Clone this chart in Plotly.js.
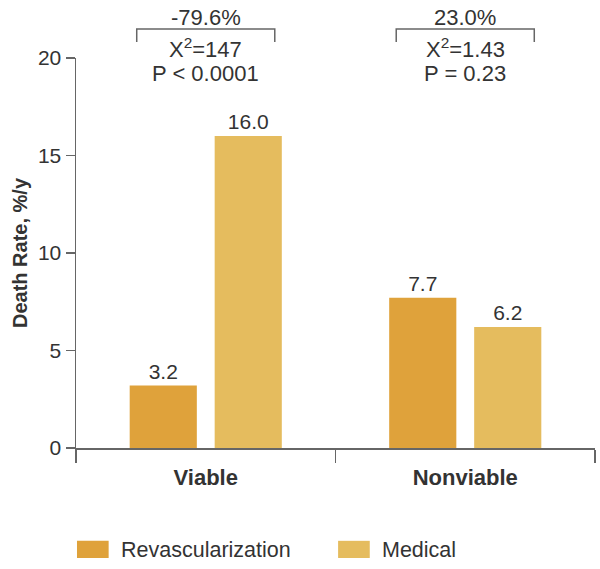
<!DOCTYPE html>
<html>
<head>
<meta charset="utf-8">
<script src="https://cdn.plot.ly/plotly-3.0.1.min.js"></script>
<style>html,body{margin:0;padding:0;background:#fff;}#chart{width:600px;height:569px;}</style>
</head>
<body>
<div id="chart"></div>
<script>
// Data
var categories = ["Viable", "Nonviable"];
var seriesNames = ["Revascularization", "Medical"];
var revascValues = [3.2, 7.7];
var medicalValues = [16.0, 6.2];
var changeLabels = ["-79.6%", "23.0%"];
var chiLabels = ["X<sup>2</sup>=147", "X<sup>2</sup>=1.43"];
var pLabels = ["P < 0.0001", "P = 0.23"];
var yTicks = [0, 5, 10, 15, 20];

var colors = ["#DFA23B", "#E5BC5E"];
var FONT = "Liberation Sans, Arial, Helvetica, sans-serif";
var txt = "#333333";
var FS = 22;

var traces = [revascValues, medicalValues].map(function (vals, i) {
  return {
    type: "bar",
    name: seriesNames[i],
    x: categories,
    y: vals,
    marker: {color: colors[i]},
    text: vals.map(function (v) { return v.toFixed(1); }),
    textposition: "outside",
    textfont: {family: FONT, size: 21, color: txt},
    cliponaxis: false,
    hoverinfo: "skip",
    showlegend: false
  };
});

var shapes = [];
var annotations = [];
var nCat = categories.length;
var halfW = 0.133;
categories.forEach(function (c, i) {
  var cx = (i + 0.5) / nCat;
  // bracket
  shapes.push({type: "path", xref: "paper", yref: "paper",
    path: "M " + (cx - halfW) + " 1.041 L " + (cx - halfW) + " 1.0744 L " + (cx + halfW) + " 1.0744 L " + (cx + halfW) + " 1.041",
    line: {color: "#666", width: 1.5}});
  annotations.push({xref: "paper", yref: "paper", x: cx, y: 1.103, text: changeLabels[i], showarrow: false,
    font: {family: FONT, size: FS, color: txt}, xanchor: "center", yanchor: "middle"});
  annotations.push({xref: "paper", yref: "paper", x: cx, y: 1.0256, text: chiLabels[i], showarrow: false,
    font: {family: FONT, size: FS, color: txt}, xanchor: "center", yanchor: "middle"});
  annotations.push({xref: "paper", yref: "paper", x: cx, y: 0.9615, text: pLabels[i], showarrow: false,
    font: {family: FONT, size: FS, color: txt}, xanchor: "center", yanchor: "middle"});
});

// custom legend
var legX = [0.0019, 0.505];
seriesNames.forEach(function (n, i) {
  shapes.push({type: "rect", xref: "paper", yref: "paper",
    x0: legX[i], x1: legX[i] + 0.061, y0: -0.282, y1: -0.238,
    fillcolor: colors[i], line: {width: 0}});
  annotations.push({xref: "paper", yref: "paper", x: legX[i] + 0.080, y: -0.2615, text: n, showarrow: false,
    font: {family: FONT, size: 21.5, color: txt}, xanchor: "left", yanchor: "middle"});
});

var layout = {
  width: 600, height: 569,
  margin: {l: 76, r: 5, t: 58, b: 121},
  paper_bgcolor: "#fff", plot_bgcolor: "#fff",
  barmode: "group",
  bargap: 0.345,
  bargroupgap: 0.21,
  showlegend: false,
  font: {family: FONT, color: txt},
  xaxis: {
    type: "category",
    range: [-0.5, 1.5],
    showline: true, linecolor: "#666", linewidth: 1.5,
    ticks: "outside", tickson: "boundaries", ticklen: 13, tickwidth: 1.5, tickcolor: "#666",
    tickfont: {family: FONT, size: FS, color: txt, weight: "bold"},
    ticklabelstandoff: 9,
    showgrid: false, zeroline: false, fixedrange: true
  },
  yaxis: {
    range: [0, 20],
    tickvals: yTicks,
    showline: true, linecolor: "#666", linewidth: 1.5,
    ticks: "outside", ticklen: 9, tickwidth: 1.5, tickcolor: "#666",
    tickfont: {family: FONT, size: 21, color: txt},
    showgrid: false, zeroline: false, fixedrange: true,
    title: {text: "Death Rate, %/y", font: {family: FONT, size: 20, color: txt, weight: "bold"}, standoff: 5}
  },
  shapes: shapes,
  annotations: annotations
};

Plotly.newPlot("chart", traces, layout, {displayModeBar: false, staticPlot: true});
</script>
</body>
</html>
